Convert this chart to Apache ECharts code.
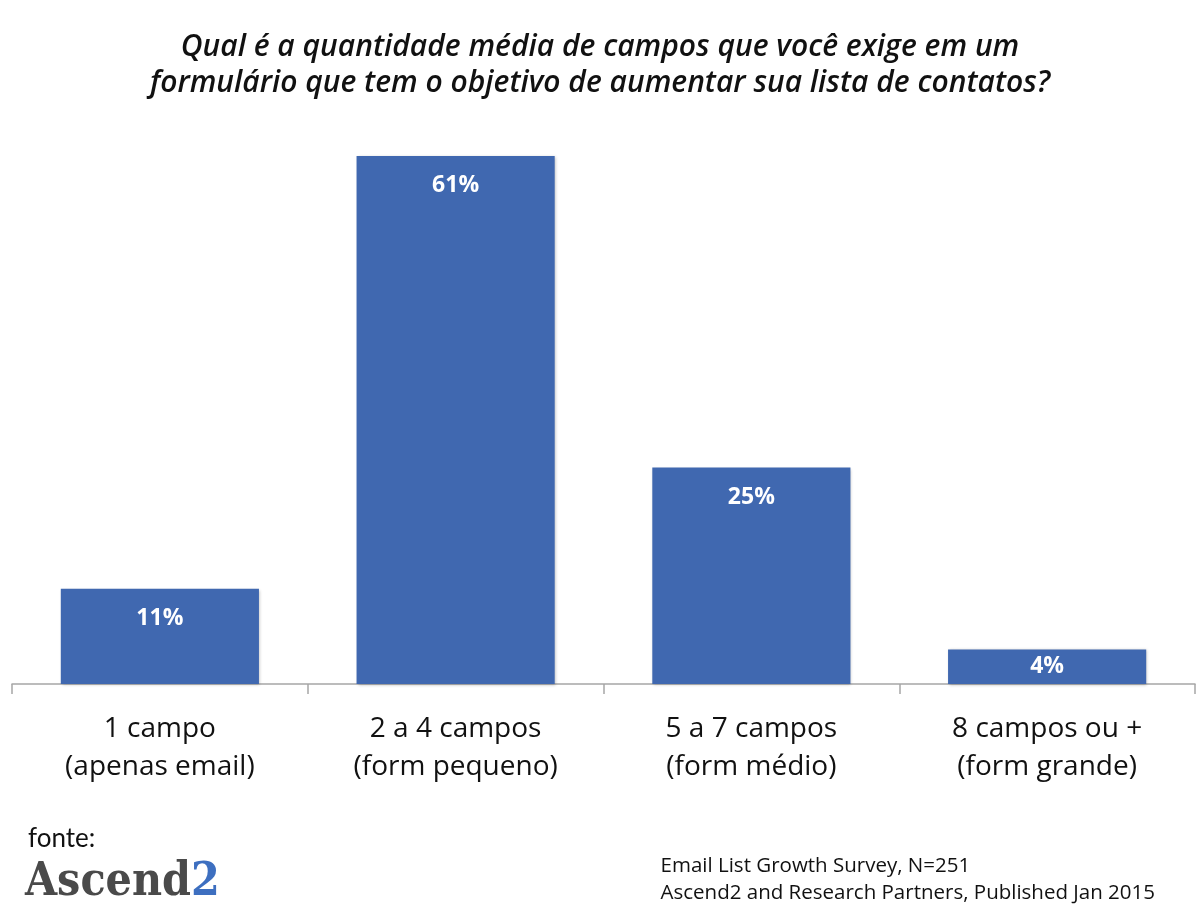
<!DOCTYPE html>
<html>
<head>
<meta charset="utf-8">
<script src="https://cdn.jsdelivr.net/npm/echarts@6/dist/echarts.min.js"></script>
<style>
  html, body { margin: 0; padding: 0; background: #fff; }
  #chart { width: 1200px; height: 916px; }
</style>
</head>
<body>
<div id="chart"></div>
<script>
// dados
const categories = ['1 campo\n(apenas email)', '2 a 4 campos\n(form pequeno)', '5 a 7 campos\n(form médio)', '8 campos ou +\n(form grande)'];
const values = [11, 61, 25, 4];
const titleText = 'Qual é a quantidade média de campos que você exige em um\nformulário que tem o objetivo de aumentar sua lista de contatos?';
const sourceLines = ['Email List Growth Survey, N=251', 'Ascend2 and Research Partners, Published Jan 2015'];

const chart = echarts.init(document.getElementById('chart'), null, { renderer: 'canvas' });

// barras baixas: rótulo centrado dentro da barra
const barData = values.map(v => ({
    value: v,
    label: v < 8 ? { position: 'inside', distance: 0 } : {}
}));

chart.setOption({
    animation: false,
    title: {
        text: titleText,
        left: 'center',
        top: 24,
        textStyle: {
            fontFamily: 'Open Sans',
            fontStyle: 'italic',
            fontWeight: 600,
            fontSize: 30,
            lineHeight: 36,
            color: '#111'
        }
    },
    grid: {
        left: 12,
        right: 5,
        top: 156,
        bottom: 232,
        containLabel: false
    },
    xAxis: {
        type: 'category',
        data: categories,
        axisLine: { lineStyle: { color: '#a6a6a6', width: 1.5 } },
        axisTick: { show: true, length: 10, lineStyle: { color: '#a6a6a6', width: 1.5 } },
        axisLabel: {
            margin: 26,
            fontFamily: 'Open Sans',
            fontSize: 28,
            lineHeight: 38,
            color: '#111'
        }
    },
    yAxis: {
        type: 'value',
        min: 0,
        max: 61,
        show: false,
        splitLine: { show: false }
    },
    series: [{
        type: 'bar',
        data: barData,
        barCategoryGap: '33%',
        itemStyle: {
            color: '#4068b0',
            shadowColor: 'rgba(0,0,0,0.25)',
            shadowBlur: 3,
            shadowOffsetX: 1,
            shadowOffsetY: 1
        },
        label: {
            show: true,
            position: 'insideTop',
            distance: 18,
            formatter: '{c}%',
            fontFamily: 'Open Sans',
            fontWeight: 'bold',
            fontSize: 23,
            color: '#fff'
        }
    }],
    graphic: [
        {
            type: 'text',
            left: 28,
            top: 826,
            style: { text: 'fonte:', font: '26px Lato', fill: '#111' }
        },
        {
            type: 'text',
            left: 25,
            top: 860,
            style: {
                text: '{a|Ascend}{b|2}',
                rich: {
                    a: { font: 'bold 46px "DejaVu Serif Condensed", "DejaVu Serif"', fill: '#4a4a4a' },
                    b: { font: 'bold 46px "DejaVu Serif Condensed", "DejaVu Serif"', fill: '#3d6fc0' }
                }
            }
        },
        {
            type: 'text',
            right: 45,
            top: 853,
            style: {
                text: sourceLines.join('\n'),
                font: '20.5px "Open Sans"',
                lineHeight: 27,
                align: 'right',
                fill: '#111'
            }
        }
    ]
});
</script>
</body>
</html>
